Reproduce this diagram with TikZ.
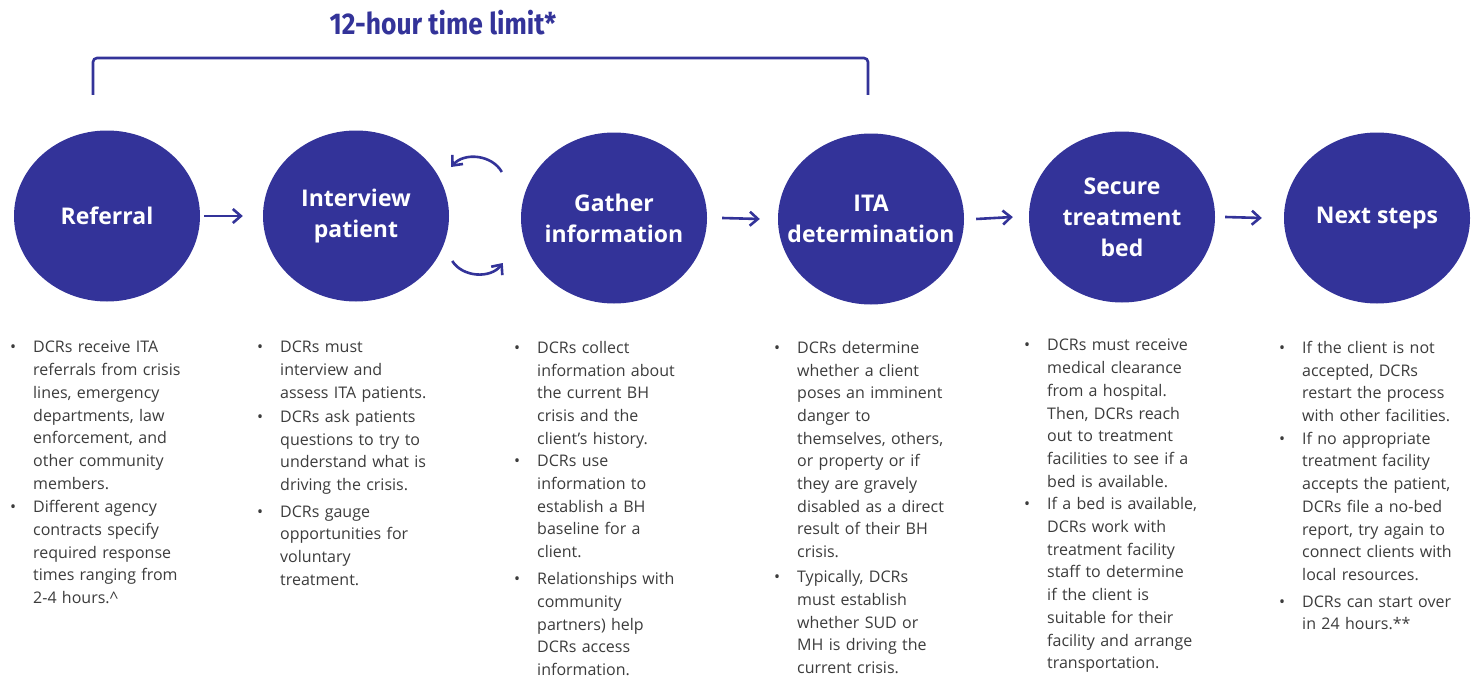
\documentclass[tikz,border=0pt]{standalone}
\usepackage{fontspec}
\setmainfont{Open Sans}
\newfontfamily\titlefont{Fira Sans}
\usetikzlibrary{shapes.geometric,arrows.meta}
\definecolor{navy}{RGB}{51,51,153}
\definecolor{bodygray}{RGB}{60,60,60}
\newcommand{\bul}{\leavevmode\llap{\textbullet\hspace{17pt}}}
\begin{document}
\begin{tikzpicture}[x=1pt,y=1pt,
  stage/.style={ellipse, fill=navy, draw=none, minimum width=186pt, minimum height=171pt,
    inner sep=0pt},
  stagetext/.style={text=white, font=\fontsize{23}{31}\selectfont\bfseries, align=center, inner sep=0pt},
  flow/.style={draw=navy, line width=2.6pt, -{Straight Barb[length=8pt,width=14pt]}},
  bodytext/.style={anchor=north west, text=bodygray, font=\fontsize{16}{22.7}\selectfont,
    align=left, inner sep=0pt, text width=200pt}]
\useasboundingbox[fill=white] (0,0) rectangle (1476,-677);

% title and bracket
\node[text=navy, font=\titlefont\bfseries\fontsize{30}{34}\selectfont] (title) at (443,-23)
  {\scalebox{0.88}[1]{12-hour time limit*}};
\draw[navy, line width=2.6pt, rounded corners=4pt] (93,-95) -- (93,-58) -- (868,-58) -- (868,-95);

% stages
\node[stage, label={[stagetext]center:Referral}] (ref) at (107,-216) {};
\node[stage, label={[stagetext]center:Interview\\patient}] (int) at (356,-216) {};
\node[stage, label={[stagetext]center:Gather\\information}] (gat) at (614,-218) {};
\node[stage, label={[stagetext]center:ITA\\determination}] (ita) at (871,-219) {};
\node[stage, label={[stagetext]center:Secure\\treatment\\bed}] (sec) at (1122,-217) {};
\node[stage, label={[stagetext]center:Next steps}] (nxt) at (1377,-218) {};

% connectors
\draw[flow] ([xshift=4pt]ref.east) -- ([xshift=-20pt]int.west);
\draw[flow] ([xshift=15pt]gat.east) -- ([xshift=-18pt]ita.west);
\draw[flow] ([xshift=12pt]ita.east) -- ([xshift=-16pt]sec.west);
\draw[flow] ([xshift=10pt]sec.east) -- ([xshift=-22pt]nxt.west);
\draw[flow] ([shift={(-19pt,46pt)}]gat.west) to[bend right=55] ([shift={(2pt,49pt)}]int.east);
\draw[flow] ([shift={(3pt,-45pt)}]int.east) to[bend right=55] ([shift={(-18pt,-45pt)}]gat.west);

% texts
\node[bodytext] (t1) at (33,-341) {\bul DCRs receive ITA\\ referrals from crisis\\ lines, emergency\\ departments, law\\ enforcement, and\\ other community\\ members.\\[1pt]
\bul Different agency\\ contracts specify\\ required response\\ times ranging from\\ 2-4 hours.\textasciicircum};

\node[bodytext] (t2) at (280,-341) {\bul DCRs must\\ interview and\\ assess ITA patients.\\[1.5pt]
\bul DCRs ask patients\\ questions to try to\\ understand what is\\ driving the crisis.\\[4pt]
\bul DCRs gauge\\ opportunities for\\ voluntary\\ treatment.};

\node[bodytext] (t3) at (537,-341) {\bul DCRs collect\\ information about\\ the current BH\\ crisis and the\\ client’s history.\\
\bul DCRs use\\ information to\\ establish a BH\\ baseline for a\\ client.\\[4.5pt]
\bul Relationships with\\ community\\ partners) help\\ DCRs access\\ information.};

\node[bodytext] (t4) at (797,-341) {\bul DCRs determine\\ whether a client\\ poses an imminent\\ danger to\\ themselves, others,\\ or property or if\\ they are gravely\\ disabled as a direct\\ result of their BH\\ crisis.\\[2.5pt]
\bul Typically, DCRs\\ must establish\\ whether SUD or\\ MH is driving the\\ current crisis.};

\node[bodytext] (t5) at (1047,-339) {\bul DCRs must receive\\ medical clearance\\ from a hospital.\\ Then, DCRs reach\\ out to treatment\\ facilities to see if a\\ bed is available.\\
\bul If a bed is available,\\ DCRs work with\\ treatment facility\\ staff to determine\\ if the client is\\ suitable for their\\ facility and arrange\\ transportation.};

\node[bodytext] (t6) at (1302,-341) {\bul If the client is not\\ accepted, DCRs\\ restart the process\\ with other facilities.\\
\bul If no appropriate\\ treatment facility\\ accepts the patient,\\ DCRs file a no-bed\\ report, try again to\\ connect clients with\\ local resources.\\[4pt]
\bul DCRs can start over\\ in 24 hours.**};
\end{tikzpicture}
\end{document}
